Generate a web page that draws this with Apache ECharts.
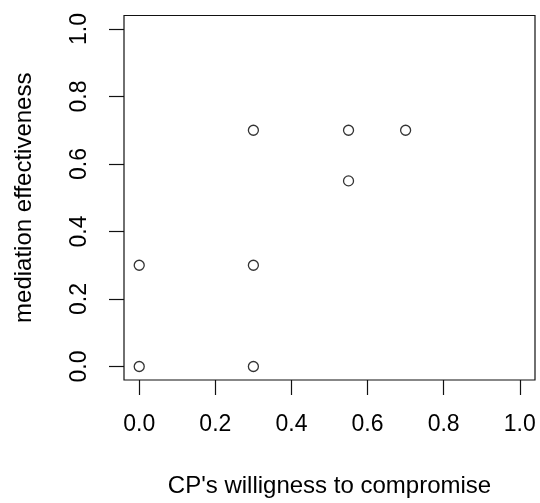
<!DOCTYPE html>
<html>
<head>
<meta charset="utf-8">
<script src="https://cdn.jsdelivr.net/npm/echarts@6/dist/echarts.min.js"></script>
<style>html,body{margin:0;padding:0;background:#fff}#c{width:540px;height:503px}</style>
</head>
<body>
<div id="c"></div>
<script>
var xValues = [0.0, 0.0, 0.3, 0.3, 0.3, 0.55, 0.55, 0.7];
var yValues = [0.0, 0.3, 0.0, 0.3, 0.7, 0.7, 0.55, 0.7];
var tickValues = [0, 0.2, 0.4, 0.6, 0.8, 1.0];
var xTitle = "CP's willigness to compromise";
var yTitle = "mediation effectiveness";

var points = xValues.map(function (x, i) { return [x, yValues[i]]; });
var font = 'Liberation Sans, Arial, sans-serif';
function fmt(v) { return v.toFixed(1); }

var chart = echarts.init(document.getElementById('c'), null, {renderer: 'canvas'});
chart.setOption({
  animation: false,
  backgroundColor: '#fff',
  grid: {left: 124, right: 5, top: 15.5, bottom: 122.5, show: true, borderColor: '#111', borderWidth: 1.2, backgroundColor: 'transparent'},
  xAxis: {
    type: 'value', min: -0.04, max: 1.04,
    splitLine: {show: false},
    axisLine: {show: false, onZero: false},
    axisTick: {show: true, inside: false, customValues: tickValues, length: 15, lineStyle: {color: '#111', width: 1.2}},
    axisLabel: {customValues: tickValues, formatter: fmt, margin: 45, verticalAlign: 'middle', fontFamily: font, fontSize: 23, color: '#000'},
    name: xTitle, nameLocation: 'middle', nameGap: 106,
    nameTextStyle: {fontFamily: font, fontSize: 24, color: '#000', verticalAlign: 'middle'}
  },
  yAxis: {
    type: 'value', min: -0.04, max: 1.04,
    splitLine: {show: false},
    axisLine: {show: false, onZero: false},
    axisTick: {show: true, inside: false, customValues: tickValues, length: 15, lineStyle: {color: '#111', width: 1.2}},
    axisLabel: {customValues: tickValues, formatter: fmt, rotate: 90, margin: 44, verticalAlign: 'middle', align: 'center', fontFamily: font, fontSize: 23, color: '#000'},
    name: yTitle, nameLocation: 'middle', nameGap: 100, nameRotate: 90,
    nameTextStyle: {fontFamily: font, fontSize: 24, color: '#000', verticalAlign: 'middle'}
  },
  series: [{
    type: 'scatter',
    data: points,
    symbol: 'circle',
    symbolSize: 10,
    itemStyle: {color: 'rgba(0,0,0,0)', borderColor: '#000', borderWidth: 1.3}
  }]
});
</script>
</body>
</html>
